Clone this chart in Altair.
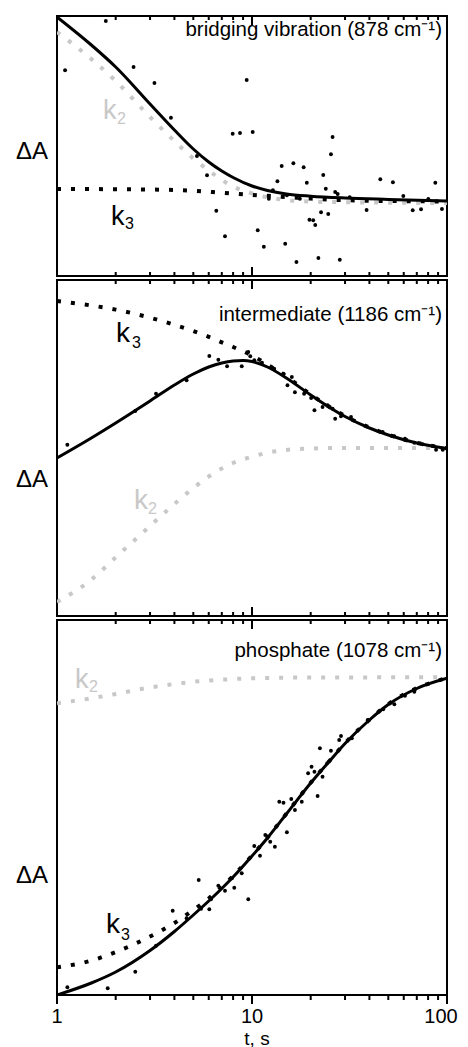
import altair as alt
import pandas as pd

FONT = "Liberation Sans"
GRAY = "#c8c8c8"
W = 390
HEIGHTS = [260, 336, 375]

major_ticks = [1, 10, 100]
minor_ticks = [2, 3, 4, 5, 6, 7, 8, 9, 20, 30, 40, 50, 60, 70, 80, 90]
axis_label_values = [1, 10]
axis_label_texts = ["1", "10"]
axis_last_value = [100]
axis_last_text = ["100"]

# ---------- panel 1: bridging vibration ----------
p1_pts_t = [1.10, 1.78, 2.47, 3.16, 3.84, 5.22, 5.88, 6.56, 7.27, 7.96, 8.68, 9.39, 10.08, 10.7, 11.5,
            12.2, 12.8, 13.5, 14.2, 14.8, 15.1, 16.3, 16.9, 17.6, 18.4, 19.1, 19.7, 20.6, 21.1, 21.9,
            22.6, 23.2, 23.9, 24.6, 25.4, 25.9, 26.7, 27.5, 28.2, 31.7, 38.7, 45.5, 52.8, 59.7, 66.7,
            73.6, 80.2, 87.1, 94.2]
p1_pts_v = [205.7, 255, 209, 193, 158.3, 120, 100.7, 65.3, 39.7, 142.3, 143, 196, 144, 45.7, 29.3,
            77.3, 85.7, 94.7, 110, 32.3, 80.7, 112.7, 14, 77.3, 108.7, 93.3, 56.3, 55.7, 51, 18,
            63.7, 101, 87.3, 62, 121.7, 139, 84, 82, 16.3, 78.7, 66, 96.7, 93.7, 80, 65.7,
            66.7, 77, 93.3, 67]
p1_fit_t = [1, 1.5, 2, 3, 4, 5, 6, 7, 8, 10, 12, 15, 20, 30, 50, 100]
p1_fit_v = [259, 231, 209, 172, 146, 127, 114, 105, 98.5, 90, 85.5, 82, 79.8, 78, 76.6, 75]
p1_k2_t = [1, 1.5, 2, 3, 4, 5, 6, 7, 8, 10, 15, 20, 30, 100]
p1_k2_v = [244, 217, 195, 159, 135, 117.5, 105.5, 96, 89.5, 82.6, 75.9, 74.4, 73.8, 73]
p1_k3_t = [1, 2, 3, 5, 7, 10, 15, 20, 30, 50, 100]
p1_k3_v = [87, 86.8, 86.5, 85.3, 83.3, 81.1, 79, 77.4, 75.8, 75, 74.5]

# ---------- panel 2: intermediate ----------
p2_pts_t = [1.13, 2.52, 3.22, 4.62, 6.04, 6.72, 7.45, 8.86, 9.57, 9.80, 10.27, 11.25, 13.0, 14.5, 15.2,
            16.0, 16.6, 18.5, 20.1, 20.9, 23.0, 24.4, 25.9, 26.7, 28.6, 32.2, 46.8, 53.7, 60.9, 68.0,
            75.0, 87.9, 95.1]
p2_pts_v = [171.3, 205, 222.3, 235.7, 260, 256.3, 249.7, 249.7, 264, 259.7, 255.7, 253.3, 247.3, 242.3, 230.7,
            239, 223.7, 222.3, 218, 205.7, 209, 210.7, 207.3, 197.3, 199.7, 199, 184, 179.7, 177.3, 173.3,
            171.7, 166.3, 166.3]
p2_fit_t = [1, 1.5, 2, 3, 4, 5, 6, 7, 8, 9, 10, 12, 15, 20, 25, 30, 40, 50, 70, 100]
p2_fit_v = [158, 178, 193, 215, 231, 242, 249, 253, 255, 255.5, 254.5, 249, 238, 221, 208.5, 199.5,
            188, 181, 173, 167.5]
p2_k3_t = [1, 1.5, 2, 3, 4, 5, 6, 7, 8, 10, 12, 15, 20, 25, 30, 40, 50, 70, 100]
p2_k3_v = [315, 310.5, 306.4, 298.3, 291.2, 285, 279.2, 273.7, 269, 260.5, 251.5, 239.5, 221.5, 209,
           200, 188.5, 181.3, 173.2, 167.7]
p2_k2_t = [1, 1.5, 2, 3, 4, 5, 6, 7, 8, 10, 12, 15, 20, 30, 100]
p2_k2_v = [14, 36.4, 58.7, 90, 112, 128, 139.5, 147.5, 153, 159.3, 163.3, 166.1, 167.5, 168, 168]

# ---------- panel 3: phosphate ----------
p3_pts_t = [1.13, 1.82, 2.52, 3.22, 3.92, 4.62, 5.33, 5.48, 6.04, 6.16, 6.72, 7.27, 7.89, 8.11, 8.86,
            9.57, 10.27, 10.99, 11.7, 12.4, 13.1, 13.8, 14.5, 15.1, 15.9, 16.6, 18.0, 19.4, 20.2, 20.9,
            21.7, 22.3, 23.0, 24.3, 25.4, 28.0, 28.6, 32.5, 39.2, 47.1, 53.7, 60.9, 68.0]
p3_pts_v = [7.7, 6.7, 23.3, 49.3, 84.3, 76.7, 115, 86.3, 85.7, 95.7, 109.3, 104.3, 116.7, 107.3, 121.7,
            95.7, 149, 139.3, 160, 153.3, 148.3, 193.3, 192.3, 162.7, 196, 185, 193.3, 221.7, 228.3, 223.3,
            199, 246.7, 218.3, 231.7, 244.3, 255, 259, 256.7, 275, 285.7, 290.7, 299.3, 303.3]
p3_fit_t = [1, 1.5, 2, 3, 4, 5, 6, 7, 8, 10, 12, 15, 20, 25, 30, 40, 50, 70, 100]
p3_fit_v = [0, 12, 23, 44.5, 63.5, 80, 94, 106.5, 118, 139, 157, 181, 212, 234, 251.5, 275, 290.5,
            306.5, 316.7]
p3_k3_t = [1, 1.5, 2, 3, 4, 5, 6, 7, 8, 10, 12, 15, 20, 25, 30, 40, 50, 70, 100]
p3_k3_v = [27.7, 34.4, 43, 58.5, 72, 85, 96.5, 108, 119, 139.5, 157.3, 181.3, 212.3, 234.3, 251.8,
           275.3, 290.8, 306.8, 317]
p3_k2_t = [1, 1.5, 2, 3, 4, 5, 7, 10, 20, 100]
p3_k2_v = [291.7, 296.7, 301, 307.5, 311, 313.2, 315.3, 316.7, 317.5, 317.7]

titles = ["bridging vibration (878 cm\u207b\u00b9)", "intermediate (1186 cm\u207b\u00b9)",
          "phosphate (1078 cm\u207b\u00b9)"]

xscale = alt.Scale(type="log", domain=[1, 100], nice=False)


def xenc():
    return alt.X("t:Q", scale=xscale, axis=None)


def yenc(H):
    return alt.Y("v:Q", scale=alt.Scale(domain=[0, H], nice=False, zero=False), axis=None)


def line(t, v, H, color, dashed, width):
    df = pd.DataFrame({"t": t, "v": v})
    kw = dict(color=color, strokeWidth=width, interpolate="monotone", clip=True)
    if dashed:
        kw["strokeDash"] = [4, 10]
        kw["strokeCap"] = "butt"
    return alt.Chart(df).mark_line(**kw).encode(x=xenc(), y=yenc(H))


def txt(s, x, y, size, color, align="left"):
    return alt.Chart(pd.DataFrame({"s": [s]})).mark_text(
        align=align, baseline="alphabetic", font=FONT, fontSize=size, color=color
    ).encode(x=alt.value(x), y=alt.value(y), text="s:N")


def ticks(vals, y0, y1):
    return alt.Chart(pd.DataFrame({"t": vals})).mark_rule(color="black", strokeWidth=2).encode(
        x=xenc(), y=alt.value(y0), y2=alt.value(y1))


def axis_text(vals, texts, y, dx):
    return alt.Chart(pd.DataFrame({"t": vals, "s": texts})).mark_text(
        baseline="alphabetic", align="center", font=FONT, fontSize=20, color="black", dx=dx
    ).encode(x=xenc(), y=alt.value(y), text="s:N")


def panel(H, pts_t, pts_v, fit_t, fit_v, k2_t, k2_v, k3_t, k3_v, title, title_y, da_y,
          klabels, bottom):
    pts = alt.Chart(pd.DataFrame({"t": pts_t, "v": pts_v})).mark_circle(
        size=15, color="black", opacity=1).encode(x=xenc(), y=yenc(H))
    layers = [
        line(k2_t, k2_v, H, GRAY, True, 4),
        line(k3_t, k3_v, H, "black", True, 4),
        line(fit_t, fit_v, H, "black", False, 3),
        pts,
        ticks(major_ticks, 0, 9),
        ticks(minor_ticks, 0, 4),
    ]
    if bottom:
        layers += [ticks(major_ticks, H, H + 9), ticks(minor_ticks, H, H + 5)]
        layers.append(axis_text(axis_label_values, axis_label_texts, H + 28, 0))
        layers.append(axis_text(axis_last_value, axis_last_text, H + 28, -6))
        layers.append(txt("t, s", W / 2 + 5, H + 49.5, 19, "black", "center"))
    else:
        layers += [ticks(major_ticks, H, H - 9), ticks(minor_ticks, H, H - 4)]
    layers.append(txt(title, 385, title_y, 20.5, "black", "right"))
    layers.append(txt("\u0394A", -41, da_y, 24, "black"))
    for (s, x, y, size, color) in klabels:
        layers.append(txt(s, x, y, size, color))
    return alt.layer(*layers).properties(width=W, height=H)


p1 = panel(HEIGHTS[0], p1_pts_t, p1_pts_v, p1_fit_t, p1_fit_v, p1_k2_t, p1_k2_v, p1_k3_t, p1_k3_v,
           titles[0], 20, 143,
           [("k", 46, 103, 27, GRAY), ("2", 60, 108, 16, GRAY),
            ("k", 54, 209, 27, "black"), ("3", 68, 213, 16, "black")], False)
p2 = panel(HEIGHTS[1], p2_pts_t, p2_pts_v, p2_fit_t, p2_fit_v, p2_k2_t, p2_k2_v, p2_k3_t, p2_k3_v,
           titles[1], 41, 207,
           [("k", 59, 62, 28, "black"), ("3", 75, 68, 16, "black"),
            ("k", 77, 229, 28, GRAY), ("2", 91, 234, 16, GRAY)], False)
p3 = panel(HEIGHTS[2], p3_pts_t, p3_pts_v, p3_fit_t, p3_fit_v, p3_k2_t, p3_k2_v, p3_k3_t, p3_k3_v,
           titles[2], 37, 263,
           [("k", 18, 68, 27, GRAY), ("2", 32, 72, 16, GRAY),
            ("k", 49, 313, 28, "black"), ("3", 64, 320, 16, "black")], True)

chart = alt.vconcat(p1, p2, p3, spacing=0).properties(
    padding={"left": 7, "top": 6, "right": 0, "bottom": 0}
).configure(font=FONT).configure_view(stroke="black", strokeWidth=2)

chart.save("out.html", embed_options={"renderer": "svg", "actions": False})
